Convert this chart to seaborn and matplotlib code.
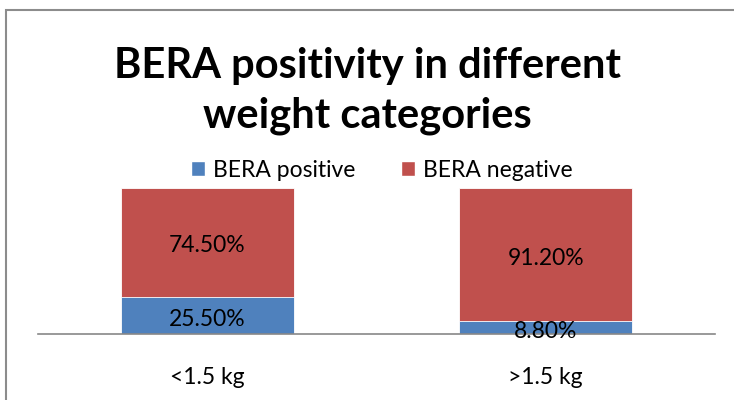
import matplotlib
matplotlib.use("Agg")
import matplotlib.pyplot as plt
import seaborn as sns
import pandas as pd
from matplotlib.patches import Rectangle, Patch

# ----------------------------------------
# Data
categories = ["<1.5 kg", ">1.5 kg"]
bera_positive = [25.5, 8.8]
bera_negative = [74.5, 91.2]
series_names = ["BERA positive", "BERA negative"]
# ----------------------------------------

BLUE = "#4F81BD"
RED = "#C0504D"

sns.set_theme(style="white")
plt.rcParams["font.family"] = ["Lato", "DejaVu Sans"]
plt.rcParams["text.color"] = "black"
plt.rcParams["xtick.color"] = "black"

df = pd.DataFrame({"category": categories,
                   "positive": bera_positive,
                   "negative": bera_negative})
df["total"] = df["positive"] + df["negative"]

fig = plt.figure(figsize=(7.34, 4.0), dpi=100)
ax = fig.add_axes([38 / 734, 1 - 334 / 400, (715 - 38) / 734, (334 - 188) / 400])

# stacked bars: total (red) first, then positive (blue) over it
sns.barplot(data=df, x="category", y="total", color=RED, width=0.51,
            saturation=1, ax=ax)
sns.barplot(data=df, x="category", y="positive", color=BLUE, width=0.51,
            saturation=1, ax=ax)
for p in ax.patches:
    p.set_edgecolor("white")
    p.set_linewidth(0.6)

ax.set_ylim(0, 100)
ax.set_xlim(-0.5, 1.5)

# value labels centred in each segment (nudged down slightly like Excel)
for i, (pos, neg) in enumerate(zip(bera_positive, bera_negative)):
    ax.annotate(f"{pos:.2f}%", (i, pos / 2), xytext=(0, -3),
                textcoords="offset points", ha="center", va="center",
                fontsize=16.5, color="black")
    ax.annotate(f"{neg:.2f}%", (i, pos + neg / 2), xytext=(0, -2.5),
                textcoords="offset points", ha="center", va="center",
                fontsize=16.5, color="black")

ax.set_xlabel("")
ax.set_ylabel("")
ax.set_yticks([])
ax.tick_params(axis="x", length=0, pad=24, labelsize=16.5, labelcolor="black")
for s in ["top", "right", "left"]:
    ax.spines[s].set_visible(False)
ax.spines["bottom"].set_color("#888888")
ax.spines["bottom"].set_linewidth(1.2)

# title
fig.text(367 / 734, 1 - 91 / 400, "BERA positivity in different\nweight categories",
         ha="center", va="center", fontsize=30, fontweight="bold",
         linespacing=1.35, color="black")

# legend
handles = [Patch(facecolor=BLUE, label=series_names[0]),
           Patch(facecolor=RED, label=series_names[1])]
fig.legend(handles=handles, loc="center", bbox_to_anchor=(382 / 734, 1 - 170 / 400),
           ncol=2, frameon=False, fontsize=16.5, handlelength=0.6,
           handleheight=0.6, handletextpad=0.35, columnspacing=2.0)

# outer chart frame (partly cropped)
fig.patches.append(Rectangle((6 / 734, -0.1), 1.2, 1 - 10 / 400 + 0.1,
                             transform=fig.transFigure, fill=False,
                             edgecolor="#8c8c8c", linewidth=1.5))

fig.savefig("out.png", dpi=100)
